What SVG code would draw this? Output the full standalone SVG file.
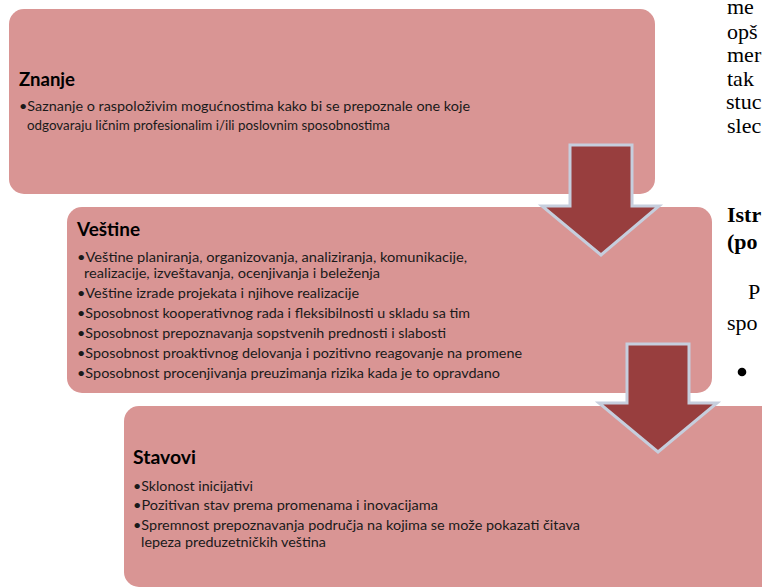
<svg xmlns="http://www.w3.org/2000/svg" width="762" height="588" viewBox="0 0 762 588">
  <style>
    .box { fill: #D99594; }
    .arrow { fill: #983E3E; stroke: #C6CEDD; stroke-width: 3; stroke-linejoin: miter; }
    .title { font-family: Lato, "Liberation Sans", sans-serif; font-weight: bold; font-size: 18px; fill: #000; }
    .body { font-family: Lato, "Liberation Sans", sans-serif; font-size: 13px; fill: #1a1a1a; }
    .doc { font-family: "Liberation Serif", "Times New Roman", serif; font-size: 22px; fill: #000; }
    .docb { font-family: "Liberation Serif", "Times New Roman", serif; font-size: 22px; font-weight: bold; fill: #000; }
    .dot { fill: #000; }
  </style>
  <rect width="762" height="588" fill="#ffffff"/>

  <g id="page-text">
    <text class="doc" x="727" y="14">me</text>
    <text class="doc" x="727" y="39">opš</text>
    <text class="doc" x="727" y="62">mer</text>
    <text class="doc" x="727" y="86">tak</text>
    <text class="doc" x="726" y="109">stuc</text>
    <text class="doc" x="727" y="133">slec</text>
    <text class="docb" x="727" y="222">Istr</text>
    <text class="docb" x="727" y="249">(po</text>
    <text class="doc" x="748" y="299">P</text>
    <text class="doc" x="727" y="330">spo</text>
    <circle class="dot" cx="742" cy="372" r="4.3"/>
    <circle class="dot" cx="742" cy="452" r="4.3"/>
    <circle class="dot" cx="742" cy="500" r="4.3"/>
    <circle class="dot" cx="742" cy="548" r="4.3"/>
  </g>

  <g id="znanje">
    <rect class="box" x="9" y="9" width="646" height="185" rx="15" ry="15"/>
    <text class="title" x="19" y="86" textLength="56" lengthAdjust="spacingAndGlyphs">Znanje</text>
    <text class="body" x="19" y="111" textLength="451" lengthAdjust="spacingAndGlyphs">•Saznanje o raspoloživim mogućnostima kako bi se prepoznale one koje</text>
    <text class="body" x="27" y="130" textLength="363" lengthAdjust="spacingAndGlyphs">odgovaraju ličnim profesionalim i/ili  poslovnim sposobnostima</text>
  </g>

  <g id="vestine">
    <rect class="box" x="67" y="207" width="645" height="186" rx="15" ry="15"/>
    <text class="title" x="77" y="236" textLength="63" lengthAdjust="spacingAndGlyphs">Veštine</text>
    <text class="body" x="77" y="262" textLength="390" lengthAdjust="spacingAndGlyphs">•Veštine planiranja, organizovanja, analiziranja, komunikacije,</text>
    <text class="body" x="84" y="278" textLength="296" lengthAdjust="spacingAndGlyphs">realizacije, izveštavanja, ocenjivanja i beleženja</text>
    <text class="body" x="77" y="298" textLength="282" lengthAdjust="spacingAndGlyphs">•Veštine izrade projekata i njihove realizacije</text>
    <text class="body" x="77" y="318" textLength="393" lengthAdjust="spacingAndGlyphs">•Sposobnost kooperativnog rada i fleksibilnosti  u skladu sa tim</text>
    <text class="body" x="77" y="338" textLength="369" lengthAdjust="spacingAndGlyphs">•Sposobnost prepoznavanja sopstvenih prednosti i slabosti</text>
    <text class="body" x="77" y="358" textLength="445" lengthAdjust="spacingAndGlyphs">•Sposobnost proaktivnog delovanja i pozitivno reagovanje na promene</text>
    <text class="body" x="77" y="378" textLength="423" lengthAdjust="spacingAndGlyphs">•Sposobnost procenjivanja preuzimanja rizika kada je to opravdano</text>
  </g>

  <g id="stavovi">
    <rect class="box" x="124" y="406" width="660" height="181" rx="15" ry="15"/>
    <text class="title" x="133" y="464" textLength="63" lengthAdjust="spacingAndGlyphs">Stavovi</text>
    <text class="body" x="133" y="491" textLength="120" lengthAdjust="spacingAndGlyphs">•Sklonost inicijativi</text>
    <text class="body" x="133" y="510" textLength="305" lengthAdjust="spacingAndGlyphs">•Pozitivan stav prema promenama i inovacijama</text>
    <text class="body" x="133" y="530" textLength="447" lengthAdjust="spacingAndGlyphs">•Spremnost prepoznavanja područja na kojima se može pokazati čitava</text>
    <text class="body" x="141" y="547" textLength="185" lengthAdjust="spacingAndGlyphs">lepeza preduzetničkih veština</text>
  </g>

  <g id="connectors">
    <polygon class="arrow" points="570,145 632,145 632,206 659,206 601,255 542,206 570,206"/>
    <polygon class="arrow" points="627,344 689,344 689,403 717,403 658,452 599,403 627,403"/>
  </g>
</svg>
